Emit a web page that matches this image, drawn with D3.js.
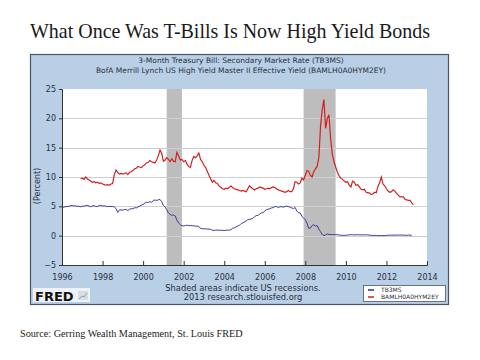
<!DOCTYPE html>
<html><head><meta charset="utf-8">
<script src="https://cdn.jsdelivr.net/npm/d3@7"></script>
<style>body{margin:0;background:#fff}svg{display:block}</style>
</head><body>
<script>
// ---- DATA ----
const chartTitle = "What Once Was T-Bills Is Now High Yield Bonds";
const subtitles = ["3-Month Treasury Bill: Secondary Market Rate (TB3MS)",
  "BofA Merrill Lynch US High Yield Master II Effective Yield (BAMLH0A0HYM2EY)"];
const seriesNames = ["TB3MS", "BAMLH0A0HYM2EY"];
const yTicks = [-5, 0, 5, 10, 15, 20, 25];
const xTickYears = [1996, 1998, 2000, 2002, 2004, 2006, 2008, 2010, 2012, 2014];
const recessions = [["2001-03-01", "2001-11-30"], ["2007-12-01", "2009-06-30"]];
// TB3MS monthly, Jan 1996 .. Apr 2013
const tbStart = "1996-01-01";
const tb3ms = [
 5.00,4.83,4.96,4.95,5.02,5.09,5.15,5.05,5.09,4.99,5.03,4.91,
 5.03,5.01,5.14,5.16,5.05,4.93,5.05,5.14,4.95,4.97,5.14,5.16,
 5.04,5.09,5.03,4.95,5.00,4.98,4.96,4.90,4.61,3.96,4.41,4.39,
 4.34,4.45,4.48,4.28,4.51,4.59,4.60,4.76,4.73,4.88,5.07,5.20,
 5.32,5.55,5.69,5.66,5.79,5.69,5.96,6.09,6.00,6.11,6.17,5.77,
 5.15,4.88,4.42,3.87,3.62,3.49,3.51,3.36,2.64,2.16,1.87,1.69,
 1.65,1.73,1.79,1.72,1.73,1.70,1.68,1.62,1.63,1.58,1.23,1.19,
 1.17,1.17,1.13,1.13,1.07,0.92,0.90,0.95,0.94,0.92,0.93,0.90,
 0.88,0.93,0.94,0.94,1.02,1.27,1.33,1.48,1.65,1.76,2.07,2.19,
 2.33,2.54,2.74,2.78,2.84,2.97,3.22,3.44,3.42,3.71,3.88,3.89,
 4.24,4.43,4.51,4.60,4.72,4.79,4.95,4.96,4.81,4.92,4.94,4.85,
 4.98,5.03,4.94,4.87,4.73,4.61,4.82,4.20,3.89,3.90,3.27,3.00,
 2.75,2.12,1.26,1.29,1.73,1.86,1.63,1.72,1.13,0.67,0.19,0.03,
 0.13,0.30,0.21,0.16,0.18,0.18,0.18,0.17,0.12,0.07,0.05,0.05,
 0.06,0.11,0.15,0.16,0.16,0.12,0.16,0.16,0.15,0.13,0.14,0.14,
 0.15,0.13,0.10,0.06,0.04,0.04,0.04,0.02,0.01,0.02,0.01,0.01,
 0.03,0.09,0.08,0.08,0.09,0.09,0.10,0.10,0.11,0.10,0.09,0.07,
 0.07,0.10,0.09,0.06];
// BAMLH0A0HYM2EY monthly, Dec 1996 .. May 2013
const hyStart = "1996-12-01";
const hyYield = [
 9.7,
 9.8,9.6,10.0,9.7,9.5,9.3,9.1,9.2,9.0,9.1,8.9,9.0,
 8.8,8.7,8.6,8.7,8.6,8.8,8.9,10.4,11.2,10.8,10.5,10.6,
 10.5,10.6,10.7,10.4,10.8,10.9,11.1,11.4,11.5,11.8,11.7,11.6,
 11.9,12.1,12.4,12.5,12.8,12.6,12.5,12.4,12.9,13.6,14.6,14.0,
 12.7,12.9,13.3,13.0,12.6,13.1,12.7,12.6,14.2,13.6,12.9,13.0,
 12.6,12.8,12.2,11.8,11.6,12.8,13.5,13.3,13.6,14.1,13.0,12.6,
 12.0,11.6,11.0,10.3,9.7,9.1,9.4,9.0,8.9,8.5,8.2,8.0,
 7.9,8.1,8.0,8.2,8.5,8.2,8.0,7.9,7.8,7.7,7.6,7.7,
 7.6,7.5,8.0,8.5,8.2,8.0,7.8,8.0,8.1,8.3,8.2,8.1,
 7.9,8.0,8.1,8.0,8.2,8.3,8.2,8.0,7.8,7.7,7.6,7.5,
 7.4,7.5,7.7,7.5,7.5,8.0,9.2,9.1,8.8,9.0,9.8,9.5,
 10.3,11.1,11.0,10.3,10.0,10.9,11.4,11.8,13.3,18.6,21.5,23.2,
 18.3,20.0,20.6,16.5,13.9,12.6,11.7,10.8,10.2,9.8,9.6,9.3,
 9.1,9.2,8.6,8.3,9.3,9.1,8.6,8.7,8.3,7.9,7.8,7.9,
 7.4,7.3,7.3,7.0,7.1,7.4,7.3,8.4,9.0,10.0,8.8,8.5,
 8.0,7.6,7.4,7.5,7.8,7.6,7.2,6.9,6.6,6.6,6.6,6.2,
 6.1,6.0,6.0,5.6,5.3];

// ---- CHART ----
const W = 480, H = 360;
const svg = d3.select("body").append("svg").attr("width", W).attr("height", H);
const sans = "DejaVu Sans, Verdana, sans-serif";

svg.append("text").attr("x", 30).attr("y", 38)
  .attr("font-family", "Liberation Serif, Times New Roman, serif").attr("font-size", 21)
  .attr("textLength", 400).attr("lengthAdjust", "spacingAndGlyphs")
  .attr("fill", "#1a1a1a").text(chartTitle);

// panel
svg.append("rect").attr("x", 30.5).attr("y", 54.5).attr("width", 418).attr("height", 250)
  .attr("fill", "#b8cfe6").attr("stroke", "#4a5566").attr("stroke-width", 1.2);

subtitles.forEach((s, i) => svg.append("text").attr("x", 241).attr("y", 63 + i * 10)
  .attr("text-anchor", "middle").attr("font-family", sans).attr("font-size", 7.5)
  .attr("fill", "#2a2f3a").text(s));

const plot = {l: 62, t: 89, r: 427, b: 265};
const parse = d3.timeParse("%Y-%m-%d");
const x = d3.scaleTime().domain([new Date(1996, 0, 1), new Date(2014, 0, 1)]).range([plot.l, plot.r]);
const y = d3.scaleLinear().domain([-5, 25]).range([plot.b, plot.t]);

svg.append("rect").attr("x", plot.l).attr("y", plot.t).attr("width", plot.r - plot.l)
  .attr("height", plot.b - plot.t).attr("fill", "#fff");

// recessions
svg.selectAll("rect.rec").data(recessions).enter().append("rect").attr("class", "rec")
  .attr("x", d => x(parse(d[0]))).attr("y", plot.t)
  .attr("width", d => x(parse(d[1])) - x(parse(d[0]))).attr("height", plot.b - plot.t)
  .attr("fill", "#bdbdbd");

// grid
svg.selectAll("line.grid").data(yTicks.filter(v => v > -5 && v < 25)).enter().append("line")
  .attr("x1", plot.l).attr("x2", plot.r).attr("y1", d => Math.round(y(d)) + 0.5).attr("y2", d => Math.round(y(d)) + 0.5)
  .attr("stroke", "#cfcfcf").attr("stroke-width", 1);

// series
const monthly = (start, vals) => {
  const d0 = parse(start);
  return vals.map((v, i) => ({date: d3.timeMonth.offset(d0, i), v}));
};
const line = d3.line().x(d => x(d.date)).y(d => y(d.v));
svg.append("path").datum(monthly(tbStart, tb3ms)).attr("d", line)
  .attr("fill", "none").attr("stroke", "#3b3b9a").attr("stroke-width", 1);
svg.append("path").datum(monthly(hyStart, hyYield)).attr("d", line)
  .attr("fill", "none").attr("stroke", "#d41f1f").attr("stroke-width", 1.2);

// axes
const yAxis = svg.append("g").attr("transform", `translate(${plot.l},0)`)
  .call(d3.axisLeft(y).tickValues(yTicks).tickSize(3).tickPadding(3));
const xAxis = svg.append("g").attr("transform", `translate(0,${plot.b})`)
  .call(d3.axisBottom(x).tickValues(xTickYears.map(yv => new Date(yv, 0, 1)))
    .tickFormat(d3.timeFormat("%Y")).tickSize(-4).tickPadding(8));
[yAxis, xAxis].forEach(g => {
  g.selectAll("text").attr("font-family", sans).attr("font-size", 8).attr("fill", "#2a2f3a");
  g.selectAll("line").attr("stroke", "#333");
  g.select(".domain").attr("stroke", "#333");
});
xAxis.selectAll("text").attr("dy", "0.9em");

svg.append("text").attr("transform", "translate(40,186) rotate(-90)")
  .attr("text-anchor", "middle").attr("font-family", sans).attr("font-size", 8)
  .attr("fill", "#2a2f3a").text("(Percent)");

// footer text
["Shaded areas indicate US recessions.", "2013 research.stlouisfed.org"].forEach((s, i) =>
  svg.append("text").attr("x", 243).attr("y", 291 + i * 9).attr("text-anchor", "middle")
    .attr("font-family", sans).attr("font-size", 8.3).attr("fill", "#2a2f3a").text(s));

// FRED logo
svg.append("rect").attr("x", 33).attr("y", 288).attr("width", 57).attr("height", 14).attr("fill", "#eef2f6");
svg.append("text").attr("x", 35).attr("y", 300.5).attr("font-family", "DejaVu Sans, Arial, sans-serif")
  .attr("font-weight", "bold").attr("font-size", 13).attr("fill", "#111").text("FRED");
const icon = svg.append("g").attr("transform", "translate(78,291)");
icon.append("rect").attr("width", 10).attr("height", 9).attr("fill", "#d8dde2");
icon.append("path").attr("d", "M1,8 L4,5 L6,6 L9,2").attr("fill", "none").attr("stroke", "#9aa3ab").attr("stroke-width", 1);

// legend
const lg = svg.append("g");
lg.append("rect").attr("x", 363.5).attr("y", 285.5).attr("width", 82).attr("height", 16)
  .attr("fill", "#fff").attr("stroke", "#4a5566").attr("stroke-width", 0.8);
const legColors = ["#2a2a8a", "#d41f1f"];
seriesNames.forEach((n, i) => {
  lg.append("line").attr("x1", 368).attr("x2", 374).attr("y1", 290 + i * 7).attr("y2", 290 + i * 7)
    .attr("stroke", legColors[i]).attr("stroke-width", 1.5);
  lg.append("text").attr("x", 381).attr("y", 292.3 + i * 7).attr("font-family", sans)
    .attr("font-size", 6).attr("fill", "#2a2f3a").text(n);
});

// source
svg.append("text").attr("x", 20).attr("y", 337).attr("font-family", "Liberation Serif, Times New Roman, serif")
  .attr("font-size", 10.2).attr("fill", "#222").text("Source: Gerring Wealth Management, St. Louis FRED");
</script>
</body></html>
